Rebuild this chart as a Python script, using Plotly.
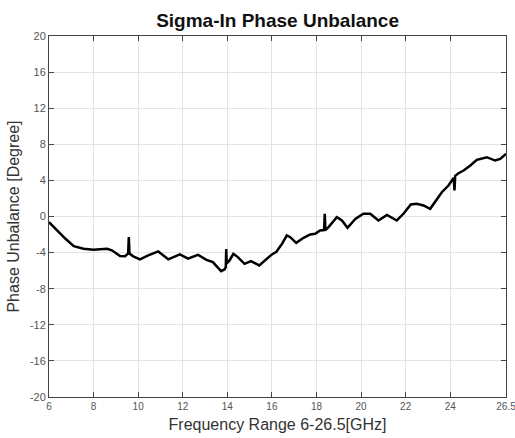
import plotly.graph_objects as go

freq = [6.0, 6.36, 6.74, 7.11, 7.55, 8.0, 8.45, 8.6, 8.82, 9.19, 9.41, 9.55, 9.58, 9.61,
        9.78, 10.08, 10.45, 10.9, 11.35, 11.87, 12.24, 12.68, 13.06, 13.35, 13.72, 13.87,
        13.93, 13.95, 13.97, 14.1, 14.27, 14.47, 14.77, 15.06, 15.43, 15.73, 16.0, 16.2,
        16.45, 16.67, 16.82, 17.09, 17.42, 17.72, 17.94, 18.16, 18.34, 18.37, 18.40, 18.54,
        18.91, 19.14, 19.39, 19.74, 20.1, 20.41, 20.78, 21.16, 21.6, 21.9, 22.23, 22.5,
        22.8, 23.1, 23.4, 23.62, 23.92, 24.15, 24.19, 24.22, 24.37, 24.6, 24.9, 25.19,
        25.64, 26.01, 26.24, 26.5]
phase = [-0.63, -1.55, -2.47, -3.28, -3.57, -3.68, -3.6, -3.57, -3.75, -4.38, -4.41, -4.1, -2.28, -4.1,
         -4.41, -4.74, -4.3, -3.87, -4.74, -4.2, -4.67, -4.24, -4.8, -5.05, -6.05, -5.87,
         -5.6, -3.6, -5.2, -4.87, -4.13, -4.5, -5.24, -4.94, -5.42, -4.8, -4.2, -3.9,
         -3.03, -2.1, -2.29, -2.92, -2.36, -1.99, -1.92, -1.55, -1.5, 0.3, -1.5, -1.18,
         -0.07, -0.44, -1.25, -0.26, 0.3, 0.3, -0.44, 0.18, -0.44, 0.3, 1.33, 1.4,
         1.22, 0.85, 1.96, 2.69, 3.43, 4.28, 2.9, 4.5, 4.8, 5.09, 5.65, 6.27,
         6.57, 6.2, 6.38, 6.94]

x_ticks = [6, 8, 10, 12, 14, 16, 18, 20, 22, 24, 26.5]
x_tick_labels = ["6", "8", "10", "12", "14", "16", "18", "20", "22", "24", "26.5"]
y_ticks = [20, 16, 12, 8, 4, 0, -4, -8, -12, -16, -20]
y_tick_labels = ["20", "16", "12", "8", "4", "0", "-4", "-8", "-12", "-16", "-20"]

fig = go.Figure()
fig.add_trace(go.Scatter(x=freq, y=phase, mode="lines",
                         line=dict(color="black", width=2.5), showlegend=False,
                         cliponaxis=False))

axis_common = dict(showline=True, linecolor="#444444", linewidth=1, mirror="ticks",
                   ticks="inside", ticklen=5, tickcolor="#444444", automargin=False,
                   showgrid=True, gridcolor="#e3e3e3", gridwidth=1, zeroline=False,
                   ticklabeloverflow="allow")

fig.update_layout(
    width=515, height=438,
    margin=dict(l=49, r=9, t=36, b=41),
    paper_bgcolor="white", plot_bgcolor="white",
    title=dict(text="<b>Sigma-In Phase Unbalance</b>", x=0.539, xanchor="center",
               y=0.953, yanchor="middle", automargin=False,
               font=dict(family="Liberation Sans, Arial", size=19, color="#111111")),
    xaxis=dict(range=[6, 26.5], tickvals=x_ticks, ticktext=x_tick_labels,
               tickfont=dict(family="Liberation Sans, Arial", size=10, color="#555555"),
               title=dict(text="Frequency Range 6-26.5[GHz]", standoff=7,
                          font=dict(family="Liberation Sans, Arial", size=16, color="#333333")),
               **axis_common),
    yaxis=dict(range=[-20, 20], tickvals=y_ticks, ticktext=y_tick_labels,
               tickfont=dict(family="Liberation Sans, Arial", size=11, color="#555555"),
               title=dict(text="Phase Unbalance [Degree]", standoff=6,
                          font=dict(family="Liberation Sans, Arial", size=16, color="#333333")),
               **axis_common),
)

fig.write_html("out.html", config={"displayModeBar": False},
               post_script="document.body.style.margin='0';document.body.style.overflow='hidden';")
